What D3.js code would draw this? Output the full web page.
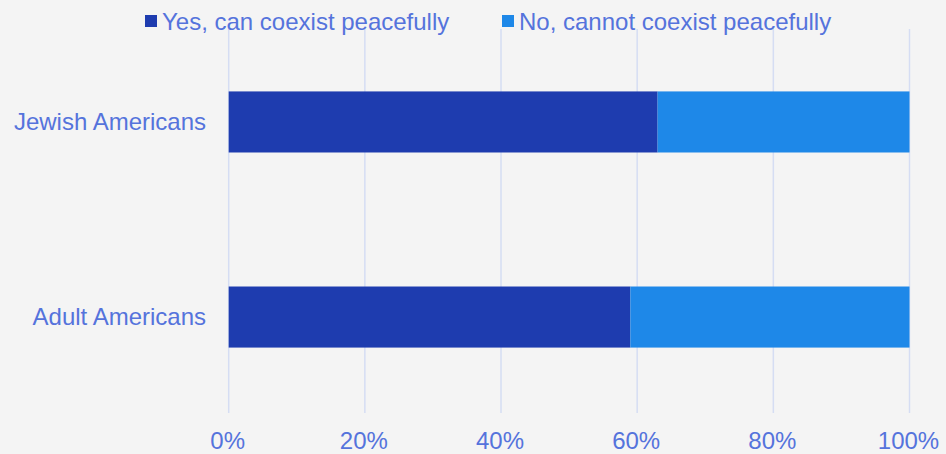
<!DOCTYPE html>
<html>
<head>
<meta charset="utf-8">
<script src="https://cdn.jsdelivr.net/npm/d3@7"></script>
<style>
  html, body { margin: 0; padding: 0; background: #f4f4f4; }
  svg { display: block; }
  text { font-family: "Liberation Sans", Arial, sans-serif; }
</style>
</head>
<body>
<svg id="chart" width="946" height="454"></svg>
<script>
const categories = ["Jewish Americans", "Adult Americans"];
const seriesNames = ["Yes, can coexist peacefully", "No, cannot coexist peacefully"];
const yesValues = [63, 59];
const noValues = [37, 41];
const tickValues = [0, 20, 40, 60, 80, 100];
const tickLabels = ["0%", "20%", "40%", "60%", "80%", "100%"];
const colors = ["#1e3caf", "#1e88e8"];

const W = 946, H = 454;
const textColor = "#5573dc";
const svg = d3.select("#chart");
svg.append("rect").attr("width", W).attr("height", H).attr("fill", "#f4f4f4");

const x = d3.scaleLinear().domain([0, 100]).range([228.7, 909.5]);
const y = d3.scaleBand().domain(categories).range([29, 410]).paddingInner(0.687).paddingOuter(0.32);

// gridlines
svg.append("g").selectAll("line").data(tickValues).join("line")
  .attr("x1", d => x(d)).attr("x2", d => x(d))
  .attr("y1", 29).attr("y2", 413)
  .attr("stroke", "#d5ddf3").attr("stroke-width", 1.5);

// stacked data
const rows = categories.map((c, i) => ({ cat: c, yes: yesValues[i], no: noValues[i] }));
const stack = d3.stack().keys(["yes", "no"])(rows);

svg.append("g").selectAll("g").data(stack).join("g")
  .attr("fill", (d, i) => colors[i])
  .selectAll("rect").data(d => d).join("rect")
  .attr("x", d => x(d[0]))
  .attr("width", d => x(d[1]) - x(d[0]))
  .attr("y", d => y(d.data.cat))
  .attr("height", y.bandwidth());

// category labels
svg.append("g").selectAll("text").data(categories).join("text")
  .attr("x", 206)
  .attr("y", d => y(d) + y.bandwidth() / 2)
  .attr("dy", "0.35em")
  .attr("text-anchor", "end")
  .attr("font-size", 24)
  .attr("fill", textColor)
  .text(d => d);

// x tick labels
svg.append("g").selectAll("text").data(tickValues).join("text")
  .attr("x", d => x(d) - 1)
  .attr("y", 448.5)
  .attr("text-anchor", "middle")
  .attr("font-size", 24)
  .attr("fill", textColor)
  .text((d, i) => tickLabels[i]);

// legend
const legendX = [145, 502];
const lg = svg.append("g").selectAll("g").data(seriesNames).join("g")
  .attr("transform", (d, i) => `translate(${legendX[i]},0)`);
lg.append("rect").attr("x", 0).attr("y", 15).attr("width", 12).attr("height", 12)
  .attr("fill", (d, i) => colors[i]);
lg.append("text").attr("x", 17).attr("y", 29.5)
  .attr("font-size", 24).attr("fill", textColor).text(d => d);
</script>
</body>
</html>
